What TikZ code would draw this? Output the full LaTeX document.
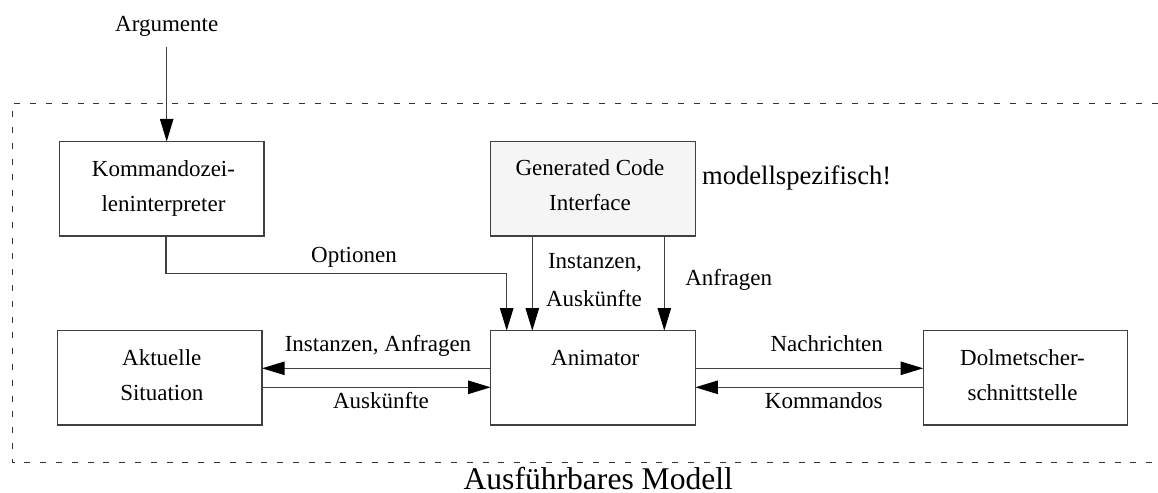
\documentclass[tikz,border=0pt]{standalone}
\usepackage{fontspec}
\setmainfont{Liberation Serif}
\usetikzlibrary{arrows.meta,calc}
\begin{document}
\begin{tikzpicture}[x=0.5pt,y=-0.5pt,
  line/.style={draw=black!75, line width=0.65pt},
  arr/.style={line, -{Triangle[length=11.3pt,width=6.7pt,black]}},
  box/.style={line, rectangle, minimum width=102.3pt, minimum height=47.2pt,
              inner sep=0pt, outer sep=0pt},
  txt/.style={inner sep=0pt, anchor=base, font=\fontsize{11.5pt}{14pt}\selectfont},
  bigtxt/.style={inner sep=0pt, font=\fontsize{13.3pt}{16pt}\selectfont},
  titletxt/.style={inner sep=0pt, anchor=base, font=\fontsize{15.8pt}{19pt}\selectfont},
  frame/.style={draw=black!80, line width=0.5pt, dash pattern=on 3pt off 4.9pt}]
\useasboundingbox (0,0) rectangle (1158,493);

% frame of the executable model
\draw[frame] (1158,103.5) -- (12.3,103.5) -- (12.3,462.5) -- (1158,462.5);
\node[titletxt] (title) at (598.3,489) {Ausführbares Modell};

% boxes
\node[box] (komm) at (161.8,188.7) {};
\node[box, fill=black!4] (gen) at (593,188.7) {};
\node[box] (akt)  at (159.7,377.9) {};
\node[box] (anim) at (593,377.9) {};
\node[box] (dolm) at (1025.5,377.9) {};

% box texts
\node[txt] (kommA) at (163.5,176) {Kommandozei-};
\node[txt] (kommB) at (163.5,211) {leninterpreter};
\node[txt] (genA) at (590,175) {Generated Code};
\node[txt] (genB) at (590,210) {Interface};
\node[txt] (aktA) at (161.8,365.7) {Aktuelle};
\node[txt] (aktB) at (161.8,400) {Situation};
\node[txt] (animA) at (595.3,365) {Animator};
\node[txt] (dolmA) at (1022.5,365) {Dolmetscher-};
\node[txt] (dolmB) at (1022.5,400) {schnittstelle};

\node[bigtxt, anchor=base west] (spez) at (701.7,184) {modellspezifisch!};

% input from outside
\node[txt] (arg) at (166.7,31.7) {Argumente};
\draw[arr] ($(arg.base)+(0,15)$) -- (komm.north -| arg.base);

% options to the animator
\coordinate (optbend) at ($(anim.north west)+(16,-57.4)$);
\draw[arr] ($(komm.south)+(4.2,0)$) |- (optbend) -- ($(anim.north west)+(16,0)$);
\node[txt] (opt) at (354,262.7) {Optionen};

% generated code interface to the animator
\draw[arr] ($(gen.south west)+(41.6,0)$) -- ($(anim.north west)+(41.6,0)$);
\draw[arr] ($(gen.south west)+(173.6,0)$) -- ($(anim.north west)+(173.6,0)$);
\node[txt] (instA) at (595,268.3) {Instanzen,};
\node[txt] (instB) at (594,306.7) {Auskünfte};
\node[txt] (anfr) at (728.7,285) {Anfragen};

% animator and current situation
\draw[arr] ($(anim.west)+(0,-9.6)$) -- ($(akt.east)+(0,-9.6)$);
\draw[arr] ($(akt.east)+(0,9.4)$) -- ($(anim.west)+(0,9.4)$);
\node[txt] (ia) at (378,351.7) {Instanzen, Anfragen};
\node[txt] (ausk) at (381,408.5) {Auskünfte};

% animator and interpreter interface
\draw[arr] ($(anim.east)+(0,-9.6)$) -- ($(dolm.west)+(0,-9.6)$);
\draw[arr] ($(dolm.west)+(0,9.4)$) -- ($(anim.east)+(0,9.4)$);
\node[txt] (nachr) at (826.7,351.7) {Nachrichten};
\node[txt] (komd) at (823.7,408.3) {Kommandos};
\end{tikzpicture}
\end{document}
